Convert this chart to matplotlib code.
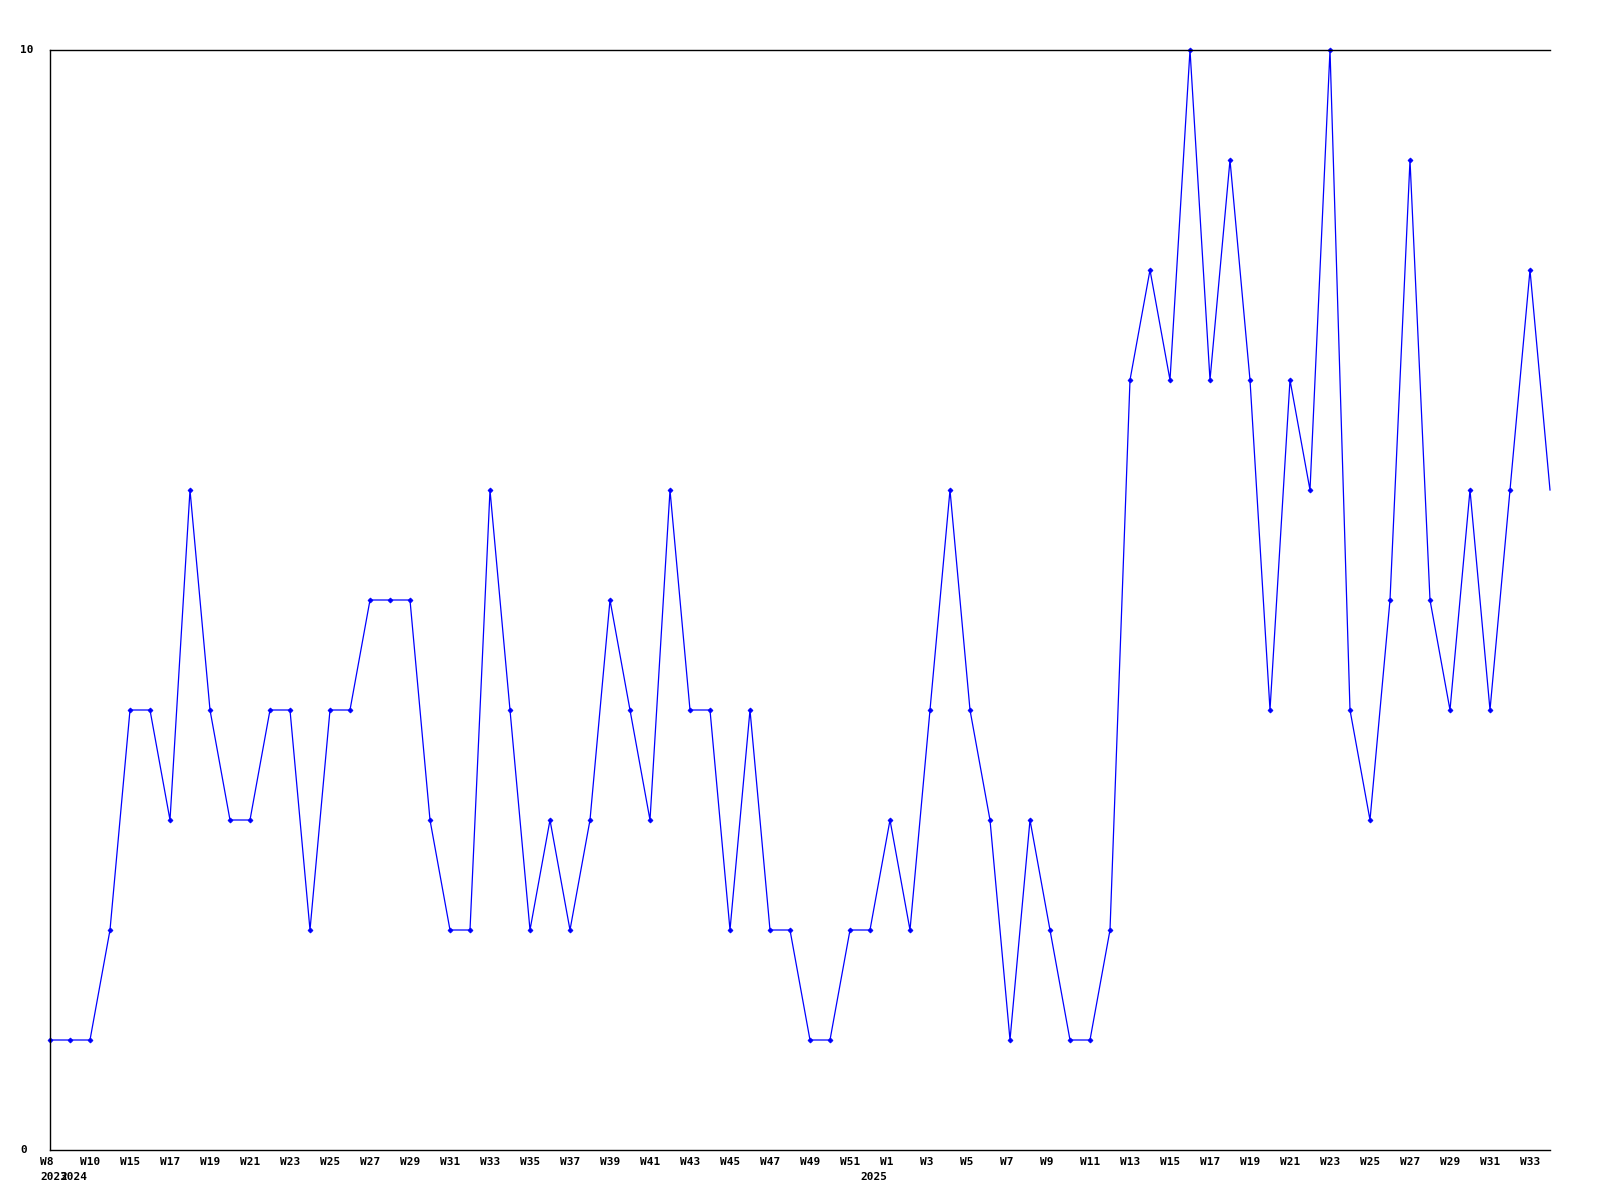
import matplotlib
matplotlib.use('Agg')
import matplotlib.pyplot as plt

# weekly counts, one point per week
values = [1, 1, 1, 2, 4, 4, 3, 6, 4, 3,
          3, 4, 4, 2, 4, 4, 5, 5, 5, 3,
          2, 2, 6, 4, 2, 3, 2, 3, 5, 4,
          3, 6, 4, 4, 2, 4, 2, 2, 1, 1,
          2, 2, 3, 2, 4, 6, 4, 3, 1, 3,
          2, 1, 1, 2, 7, 8, 7, 10, 7, 9,
          7, 4, 7, 6, 10, 4, 3, 5, 9, 5,
          4, 6, 4, 6, 8, 6]

# week labels shown on every other point
week_labels = ['W8', 'W10', 'W15', 'W17', 'W19', 'W21', 'W23', 'W25', 'W27', 'W29',
               'W31', 'W33', 'W35', 'W37', 'W39', 'W41', 'W43', 'W45', 'W47', 'W49',
               'W51', 'W1', 'W3', 'W5', 'W7', 'W9', 'W11', 'W13', 'W15', 'W17',
               'W19', 'W21', 'W23', 'W25', 'W27', 'W29', 'W31', 'W33']
week_pos = list(range(0, 76, 2))

year_labels = ['2023', '2024', '2025']
year_pos = [0, 1, 41]

fig = plt.figure(figsize=(16, 12), dpi=100)
ax = fig.add_axes([50/1600, 50/1200, 1500/1600, 1100/1200])

x = list(range(len(values)))
ax.plot(x, values, color='#0000ff', lw=0.9, marker='D', markersize=2.5,
        markeredgewidth=0.6, markevery=list(range(len(values) - 1)),
        clip_on=False)

ax.set_xlim(0, len(values) - 1)
ax.set_ylim(0, 10)
ax.set_xticks([])
ax.set_yticks([])
ax.spines['right'].set_visible(False)
for s in ['left', 'top', 'bottom']:
    ax.spines[s].set_linewidth(1.0)

font = dict(family='DejaVu Sans Mono', fontweight='bold', fontsize=8)

for p, lab in zip(week_pos, week_labels):
    ax.annotate(lab, xy=(p, 0), xycoords=('data', 'axes fraction'),
                xytext=(-10, -7), textcoords='offset pixels',
                ha='left', va='top', **font)

# year labels sit under the first point of each year (2023/2024 overlap as in the original)
for p, lab in zip(year_pos, year_labels):
    ax.annotate(lab, xy=(p, 0), xycoords=('data', 'axes fraction'),
                xytext=(-10, -22), textcoords='offset pixels',
                ha='left', va='top', **font)

for v in [0, 10]:
    ax.annotate(str(v), xy=(0, v), xycoords=('axes fraction', 'data'),
                xytext=(-30, 0), textcoords='offset pixels',
                ha='left', va='center', **font)

fig.savefig('out.png', dpi=100)
